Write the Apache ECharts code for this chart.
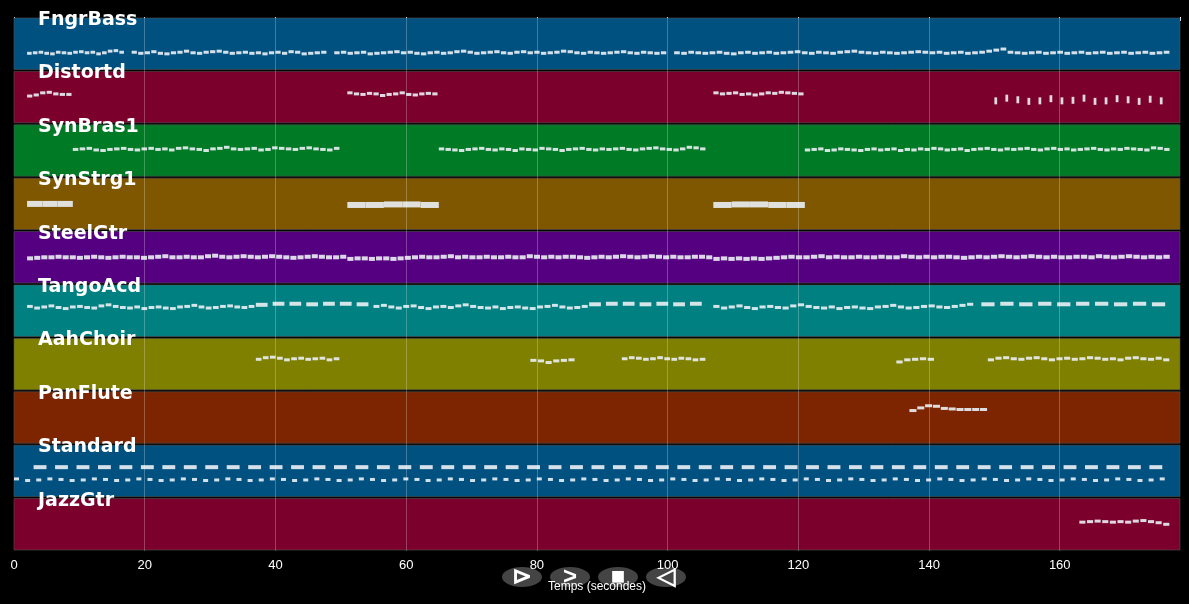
<!DOCTYPE html>
<html><head><meta charset="utf-8">
<script src="https://cdn.jsdelivr.net/npm/echarts@6/dist/echarts.min.js"></script>
<style>html,body{margin:0;background:#000}#c{width:1189px;height:604px}</style></head>
<body><div id="c"></div>
<script>
const tracks = ['FngrBass','Distortd','SynBras1','SynStrg1','SteelGtr','TangoAcd','AahChoir','PanFlute','Standard','JazzGtr'];
const bandColors = ['#005180','#7b002c','#007a25','#7f5700','#540080','#008080','#7f7f00','#7c2500','#005180','#7b002c'];
const xTicks = [0,20,40,60,80,100,120,140,160];
// phrases: [track, start, end, noteHeightPx, contour (position within band, 0=top,1=bottom), duty]
const phrases = [
 [0,2,17,3,[.68,.67,.66,.68,.69,.66,.67,.68,.66,.65,.67,.66,.69,.67,.64,.63,.66],0.8],
 [0,18,48,3,[.66,.68,.67,.65,.68,.69,.67,.66,.64,.67,.68,.66,.65,.64,.66,.68,.67,.66,.68,.67,.69,.67,.66,.68,.65,.66,.69,.68,.67,.66],0.8],
 [0,49,100,3,[.67,.66,.68,.67,.66,.69,.68,.67,.66,.65,.67,.66,.68,.69,.67,.66,.68,.67,.65,.64,.66,.68,.67,.66,.65,.67,.68,.66,.65,.67,.66,.68,.67,.66,.64,.65,.67,.68,.66,.67,.68,.67,.66,.65,.67,.68,.66,.67,.68,.67],0.8],
 [0,101,177,3,[.67,.68,.66,.67,.68,.67,.66,.68,.69,.67,.66,.68,.67,.66,.68,.67,.66,.65,.67,.68,.66,.67,.68,.66,.65,.64,.66,.67,.68,.66,.67,.68,.67,.66,.65,.66,.67,.66,.68,.67,.66,.68,.67,.66,.64,.62,.6,.66,.67,.68,.67,.66,.68,.67,.66,.68,.67,.66,.68,.67,.66,.68,.67,.66,.68,.67,.66,.68,.67,.66],0.8],
 [1,2,9,3,[.48,.46,.42,.41,.44,.45,.45],0.8],
 [1,51,65,3,[.42,.44,.45,.43,.44,.47,.45,.44,.42,.45,.46,.44,.43,.44],0.8],
 [1,107,121,3,[.42,.44,.43,.42,.45,.44,.46,.44,.42,.43,.41,.42,.43,.44],0.8],
 [1,150,177,7,[.57,.52,.55,.58,.57,.53,.57,.56,.52,.58,.57,.53,.55,.58,.54,.57],0.25],
 [2,9,50,3,[.48,.47,.46,.49,.5,.48,.47,.46,.48,.49,.47,.46,.48,.47,.49,.46,.45,.47,.48,.5,.47,.46,.44,.47,.48,.47,.46,.49,.48,.45,.46,.47,.48,.46,.45,.47,.48,.49,.46],0.8],
 [2,65,106,3,[.47,.48,.49,.5,.48,.47,.46,.48,.49,.47,.48,.5,.47,.48,.49,.46,.47,.48,.5,.48,.47,.46,.48,.49,.47,.48,.47,.46,.48,.49,.47,.46,.45,.47,.48,.49,.47,.44,.45,.47],0.8],
 [2,121,177,3,[.49,.48,.47,.5,.49,.47,.48,.49,.5,.48,.47,.49,.48,.47,.5,.48,.49,.47,.48,.46,.47,.49,.48,.47,.5,.48,.47,.46,.48,.49,.47,.48,.47,.46,.48,.49,.47,.46,.48,.47,.49,.48,.47,.46,.48,.49,.47,.48,.46,.47,.48,.49,.45,.46,.48],0.8],
 [3,2,9,6,[.5,.5,.5],1],
 [3,51,65,6,[.52,.52,.51,.51,.52],1],
 [3,107,121,6,[.52,.51,.51,.52,.52],1],
 [4,2,51,4,[.52,.51,.5,.5,.49,.5,.5,.51,.5,.49,.5,.51,.5,.49,.5,.5,.51,.5,.49,.48,.5,.5,.49,.5,.5,.48,.47,.49,.5,.49,.48,.49,.5,.49,.48,.49,.5,.51,.5,.49,.48,.49,.5,.5,.49],0.85],
 [4,51,107,4,[.53,.52,.52,.53,.52,.52,.53,.52,.51,.5,.49,.5,.5,.49,.48,.5,.49,.5,.5,.49,.5,.5,.49,.5,.5,.48,.49,.5,.49,.5,.49,.49,.5,.51,.5,.49,.5,.49,.48,.49,.5,.49,.48,.49,.5,.49,.5,.5,.49,.49,.5],0.85],
 [4,107,177,4,[.53,.52,.53,.52,.53,.52,.53,.52,.51,.5,.49,.5,.5,.49,.48,.5,.49,.5,.5,.49,.5,.5,.49,.5,.5,.48,.49,.5,.49,.5,.49,.49,.5,.51,.5,.49,.5,.49,.48,.49,.5,.49,.48,.49,.5,.49,.5,.5,.49,.49,.5,.48,.49,.5,.49,.48,.49,.5,.49,.5,.49],0.85],
 [5,2,37,3,[.42,.45,.43,.41,.44,.46,.43,.42,.44,.45,.41,.39,.42,.44,.45,.43,.46,.44,.43,.45,.46,.43,.42,.4,.43,.45,.44,.42,.41,.43,.44,.42],0.8],
 [5,37,55,4,[.39,.37,.37,.38,.37,.37,.38],0.7],
 [5,55,88,3,[.42,.4,.43,.45,.42,.41,.44,.46,.43,.42,.44,.41,.39,.42,.44,.45,.43,.46,.44,.43,.45,.46,.43,.42,.4,.43,.45,.44,.42],0.8],
 [5,88,106,4,[.38,.37,.37,.38,.37,.38,.37],0.7],
 [5,107,147,3,[.42,.45,.43,.41,.44,.46,.43,.42,.44,.45,.41,.39,.42,.44,.45,.43,.46,.44,.43,.45,.46,.43,.42,.4,.43,.45,.44,.42,.41,.43,.44,.42,.4,.38],0.8],
 [5,148,177,4,[.38,.37,.38,.37,.38,.37,.37,.38,.37,.38],0.7],
 [6,37,50,3,[.41,.38,.37,.39,.42,.4,.39,.41,.4,.39,.42,.4],0.8],
 [6,79,86,3,[.43,.44,.47,.44,.43,.42],0.8],
 [6,93,106,3,[.4,.38,.39,.41,.4,.38,.4,.41,.39,.4,.42,.41],0.8],
 [6,135,141,3,[.46,.42,.41,.4,.41],0.8],
 [6,149,177,3,[.42,.39,.38,.4,.41,.39,.38,.4,.42,.4,.39,.41,.4,.38,.39,.41,.4,.42,.39,.38,.4,.41,.39,.42],0.8],
 [7,137,149,3,[.37,.32,.28,.29,.33,.34,.35,.35,.35,.35],0.9],
 [8,3,177,4,[.43,.43,.43,.43,.43,.43,.43,.43,.43,.43,.43,.43,.43,.43,.43,.43,.43,.43,.43,.43,.43,.43,.43,.43,.43,.43,.43,.43,.43,.43,.43,.43,.43,.43,.43,.43,.43,.43,.43,.43,.43,.43,.43,.43,.43,.43,.43,.43,.43,.43,.43,.43,.43],0.6],
 [8,0,177,3,[.65,.68,.67,.65,.66,.68,.67,.65,.66,.68,.67,.65,.66,.68,.67,.65,.66,.68,.67,.65,.66,.68,.67,.65,.66,.68,.67,.65,.66,.68,.67,.65,.66,.68,.67,.65,.66,.68,.67,.65,.66,.68,.67,.65,.66,.68,.67,.65,.66,.68,.67,.65,.66,.68,.67,.65,.66,.68,.67,.65,.66,.68,.67,.65,.66,.68,.67,.65,.66,.68,.67,.65,.66,.68,.67,.65,.66,.68,.67,.65,.66,.68,.67,.65,.66,.68,.67,.65,.66,.68,.67,.65,.66,.68,.67,.65,.66,.68,.67,.65,.66,.68,.67,.65],0.45],
 [9,163,177,3,[.46,.45,.44,.45,.46,.45,.46,.44,.43,.45,.47,.5],0.8]
];
const buttons = ['⊳','>','■','◁'];

const bandData = tracks.map((t,i)=>[i]);
const noteData = [];
phrases.forEach(p=>{
  const [tr,s,e,h,c,d]=p; const step=(e-s)/c.length;
  c.forEach((v,k)=>noteData.push([s+k*step, s+(k+d)*step, tr+v, h]));
});
const chart = echarts.init(document.getElementById('c'));
chart.setOption({
  backgroundColor:'#000',
  animation:false,
  grid:{left:14,right:9,top:17,bottom:53},
  xAxis:{type:'value',min:0,max:178.4,interval:20,
    axisLine:{show:false},axisTick:{show:true,length:4,lineStyle:{color:'#fff'}},
    axisLabel:{color:'#fff',fontSize:13,formatter:v=>xTicks.includes(v)?String(v):''},
    splitLine:{show:false},
    name:'Temps (secondes)',nameLocation:'middle',nameGap:30,nameTextStyle:{color:'#fff',fontSize:12}},
  yAxis:{type:'value',min:0,max:10,inverse:true,show:false},
  graphic:buttons.map((b,i)=>({type:'group',left:502+i*48,top:565,z:100,children:[
    {type:'ellipse',shape:{cx:20,cy:10,rx:20,ry:10},style:{fill:'#444'}},
    {type:'text',style:{text:b,x:20,y:10,align:'center',verticalAlign:'middle',fill:'#fff',fontSize:24,fontWeight:'bold'}}
  ]})),
  series:[
    {type:'custom',z:1,data:bandData,renderItem:(params,api)=>{
      const i=api.value(0); const p0=api.coord([0,i]); const p1=api.coord([178.4,i+1]);
      return {type:'group',children:[
        {type:'rect',shape:{x:p0[0],y:p0[1]+1,width:p1[0]-p0[0],height:p1[1]-p0[1]-2},style:{fill:bandColors[i],stroke:'#555',lineWidth:0.6}},
        {type:'text',z2:10,style:{text:tracks[i],x:p0[0]+24,y:p0[1]+3,verticalAlign:'middle',fill:'#fff',font:'bold 19px "DejaVu Sans"'}}
      ]};
    },
    markLine:{silent:true,symbol:'none',label:{show:false},lineStyle:{color:'rgba(255,255,255,0.25)',type:'solid',width:1},data:xTicks.slice(1).map(x=>({xAxis:x}))}},
    {type:'custom',z:3,data:noteData,renderItem:(params,api)=>{
      const a=api.coord([api.value(0),api.value(2)]); const b=api.coord([api.value(1),api.value(2)]);
      const h=api.value(3);
      return {type:'rect',shape:{x:a[0],y:a[1]-h/2,width:Math.max(1.5,b[0]-a[0]),height:h},style:{fill:'rgba(235,240,245,0.9)'}};
    }}
  ]
});
</script></body></html>
